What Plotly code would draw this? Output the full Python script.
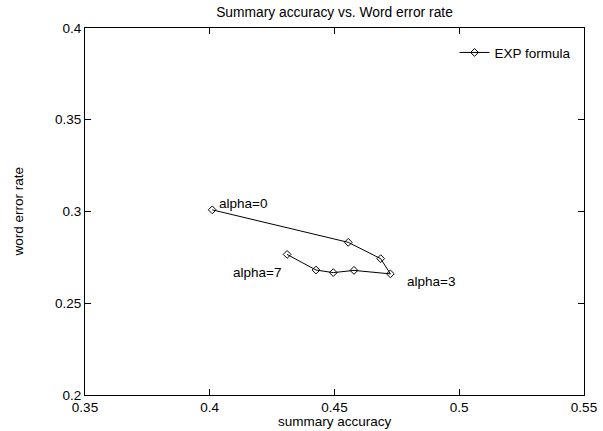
import plotly.graph_objects as go

# Data
summary_accuracy = [0.401, 0.4555, 0.4685, 0.4724, 0.4578, 0.4495, 0.4426, 0.431]
word_error_rate = [0.3009, 0.2832, 0.2743, 0.266, 0.2679, 0.2667, 0.2681, 0.2766]
series_name = "EXP formula"

label_texts = ["alpha=0", "alpha=3", "alpha=7"]
label_x = [0.4028, 0.4783, 0.4085]
label_y = [0.3046, 0.2619, 0.2668]

x_ticks = [0.35, 0.4, 0.45, 0.5, 0.55]
x_tick_text = ["0.35", "0.4", "0.45", "0.5", "0.55"]
y_ticks = [0.2, 0.25, 0.3, 0.35, 0.4]
y_tick_text = ["0.2", "0.25", "0.3", "0.35", "0.4"]

FONT = "Liberation Sans, Arial, Helvetica, sans-serif"
FS = 13.5

W, H = 603, 431
L, R, T, B = 85, 19, 28, 36
PW, PH = W - L - R, H - T - B

fig = go.Figure()
fig.add_trace(go.Scatter(
    x=summary_accuracy, y=word_error_rate, mode="lines+markers",
    name=series_name,
    line=dict(color="black", width=1),
    marker=dict(symbol="diamond-open", size=6, color="black", line=dict(width=1, color="black")),
))

for t, lx, ly in zip(label_texts, label_x, label_y):
    fig.add_annotation(x=lx, y=ly, text=t, showarrow=False, xanchor="left", yanchor="middle",
                       font=dict(family=FONT, size=FS, color="black"))

# axis titles
fig.add_annotation(x=(18 - L) / PW, y=0.5, xref="paper", yref="paper", text="word error rate",
                   textangle=-90, showarrow=False, xanchor="center", yanchor="middle",
                   font=dict(family=FONT, size=FS, color="black"))
fig.add_annotation(x=0.5, y=-(421 - (H - B)) / PH, xref="paper", yref="paper", text="summary accuracy",
                   showarrow=False, xanchor="center", yanchor="middle",
                   font=dict(family=FONT, size=FS, color="black"))

axis_common = dict(
    showgrid=False, zeroline=False, showline=True, linecolor="black", linewidth=1,
    mirror="ticks", ticks="inside", ticklen=6, tickcolor="black", tickwidth=1,
    tickfont=dict(family=FONT, size=FS, color="black"), automargin=False,
)

fig.update_layout(
    width=W, height=H,
    margin=dict(l=L, r=R, t=T, b=B, autoexpand=False),
    paper_bgcolor="white", plot_bgcolor="white",
    title=dict(text="Summary accuracy vs. Word error rate", x=(L + PW / 2) / W, xref="container", xanchor="center",
               y=1 - 12.5 / H, yref="container", yanchor="middle",
               font=dict(family=FONT, size=13.8, color="black")),
    xaxis=dict(range=[0.35, 0.55], tickvals=x_ticks, ticktext=x_tick_text, **axis_common),
    yaxis=dict(range=[0.2, 0.4], tickvals=y_ticks, ticktext=y_tick_text, **axis_common),
    showlegend=True,
    legend=dict(x=0.985, y=0.975, xanchor="right", yanchor="top", bgcolor="rgba(0,0,0,0)",
                font=dict(family=FONT, size=FS, color="black"), itemwidth=30),
)

fig.write_html("out.html", config={"displayModeBar": False},
               post_script="document.body.style.margin='0px';")
